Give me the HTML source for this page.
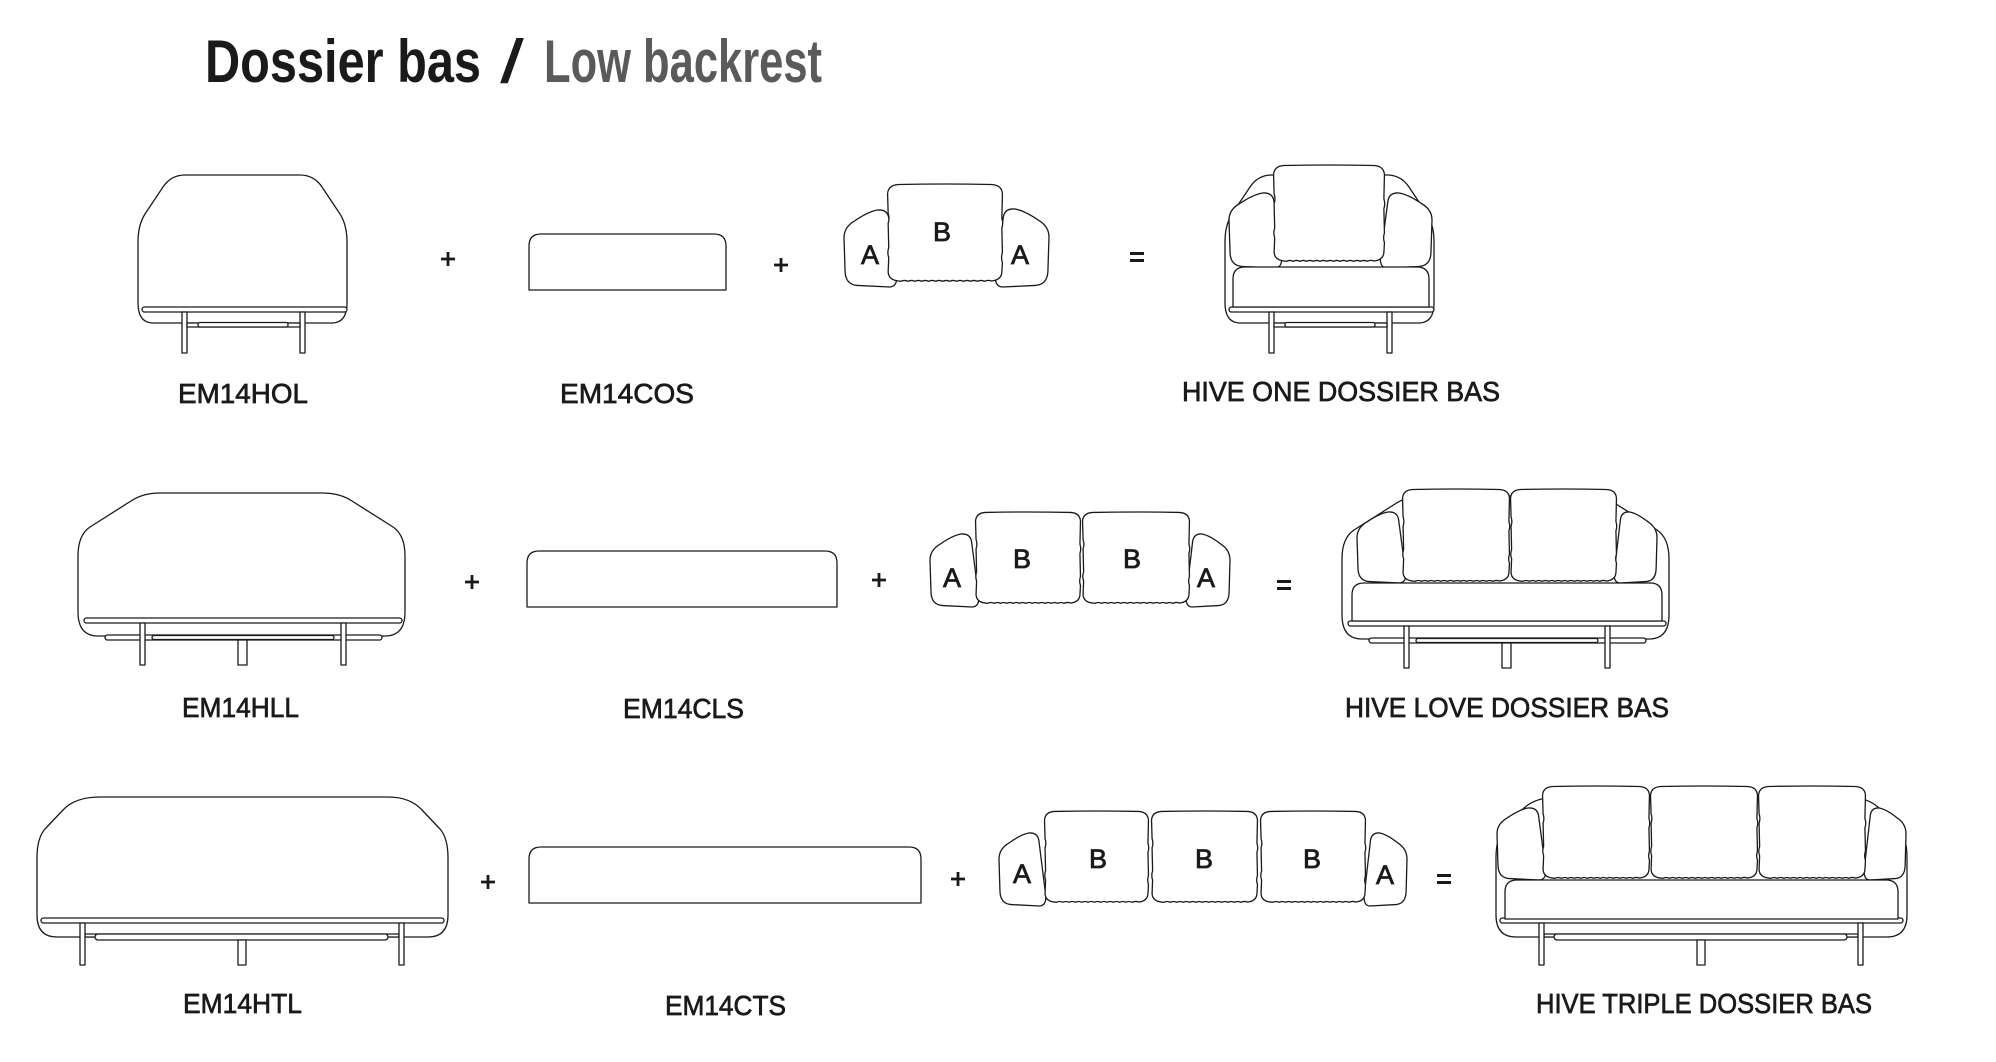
<!DOCTYPE html>
<html>
<head>
<meta charset="utf-8">
<style>
  html, body { margin:0; padding:0; background:#ffffff; }
  body { width:1996px; height:1062px; overflow:hidden; }
  svg { display:block; }
  .ln { fill:#ffffff; stroke:#1a1a1a; stroke-width:1.3; stroke-linejoin:round; }
  .lbl { font-family:"Liberation Sans", Arial, sans-serif; font-size:28px; fill:#1a1a1a; stroke:#1a1a1a; stroke-width:0.7; }
  .let { font-family:"Liberation Sans", Arial, sans-serif; font-size:27px; fill:#1a1a1a; stroke:#1a1a1a; stroke-width:0.8; text-anchor:middle; }
  .op { stroke:#1a1a1a; stroke-width:2.8; fill:none; }
</style>
</head>
<body>
<svg width="1996" height="1062" viewBox="0 0 1996 1062" xmlns="http://www.w3.org/2000/svg">
  <defs>
    <path id="Bc" vector-effect="non-scaling-stroke" d="M 10 0.5 Q 50 -0.5 90 0.5 Q 99 1 99.5 10 L 99 35 Q 100.5 40 99 45 L 99.5 70 Q 98 75 99.5 80 L 99 90 Q 98.5 98 90 99 Q 87 97.5 84 99.3 Q 81 97.5 78 99.3 Q 75 97.5 72 99.3 Q 69 97.5 66 99.3 Q 63 97.5 60 99.3 Q 57 97.5 54 99.3 Q 51 97.5 48 99.3 Q 45 97.5 42 99.3 Q 39 97.5 36 99.3 Q 33 97.5 30 99.3 Q 27 97.5 24 99.3 Q 21 97.5 18 99.3 Q 15 97.5 12 99.3 L 10 99 Q 1.5 98 1 90 L 1.5 75 Q 0 70 1.5 65 L 1 40 Q 2.5 35 1 30 L 0.5 10 Q 1 1 10 0.5 Z"/>
    <path id="AL" vector-effect="non-scaling-stroke" d="M 20 14 Q 45 2 62 0 Q 80 -1 83 10 L 97 84 Q 100 99 85 100 L 25 98 Q 3 97 2 80 L 0 36 Q 0 22 20 14 Z"/>
    <path id="AR" vector-effect="non-scaling-stroke" d="M 80 14 Q 55 2 38 0 Q 20 -1 17 10 L 3 84 Q 0 99 15 100 L 75 98 Q 97 97 98 80 L 100 36 Q 100 22 80 14 Z"/>

    <g id="hol">
      <path class="ln" d="M 185 175 L 300 175 Q 314 175 322 187 L 340 214 Q 347 225 347 242 L 347 303 Q 347 322 333 323 L 152 323 Q 138 322 138 303 L 138 242 Q 138 225 145 214 L 163 187 Q 171 175 185 175 Z"/>
      <rect class="ln" x="142" y="307" width="205" height="5" rx="2.5"/>
      <rect class="ln" x="182" y="312" width="5" height="41"/>
      <rect class="ln" x="300" y="312" width="5" height="41"/>
      <rect class="ln" x="187" y="323" width="113" height="4"/>
      <rect class="ln" x="198" y="322.5" width="90" height="4.5" rx="2"/>
    </g>

    <g id="hll">
      <path class="ln" d="M 160 493 L 322 493 Q 340 493 352 501 L 393 527 Q 405 535 405 556 L 405 612 Q 405 636 385 636 L 98 636 Q 78 636 78 612 L 78 556 Q 78 535 90 527 L 131 501 Q 143 493 160 493 Z"/>
      <rect class="ln" x="84" y="618" width="318" height="5" rx="2.5"/>
      <rect class="ln" x="105" y="635" width="277" height="5" rx="2.5"/>
      <rect class="ln" x="152" y="635.5" width="182" height="4" rx="2"/>
      <rect class="ln" x="140" y="623" width="5" height="42"/>
      <rect class="ln" x="341" y="623" width="5" height="42"/>
      <rect class="ln" x="238" y="640" width="9" height="25"/>
    </g>

    <g id="htl">
      <path class="ln" d="M 100 797 L 388 797 Q 410 797 422 810 L 440 829 Q 448 838 448 858 L 448 915 Q 448 937 428 937 L 57 937 Q 37 937 37 915 L 37 858 Q 37 838 45 829 L 63 810 Q 75 797 100 797 Z"/>
      <rect class="ln" x="41" y="918" width="403" height="5" rx="2.5"/>
      <rect class="ln" x="85" y="934" width="314" height="3"/>
      <rect class="ln" x="95" y="934" width="293" height="6" rx="3"/>
      <rect class="ln" x="80" y="923" width="5" height="42"/>
      <rect class="ln" x="399" y="923" width="5" height="42"/>
      <rect class="ln" x="238" y="940" width="8" height="25"/>
    </g>
  </defs>

  <!-- Title -->
  <text x="205" y="82" font-family="Liberation Sans, Arial, sans-serif" font-size="60" font-weight="bold" fill="#1a1a1a" textLength="276" lengthAdjust="spacingAndGlyphs">Dossier bas</text>
  <text x="501" y="82" font-family="Liberation Sans, Arial, sans-serif" font-size="60" fill="#1a1a1a" stroke="#1a1a1a" stroke-width="1" textLength="22" lengthAdjust="spacingAndGlyphs">/</text>
  <text x="544" y="82" font-family="Liberation Sans, Arial, sans-serif" font-size="60" font-weight="bold" fill="#5a5a5a" textLength="278" lengthAdjust="spacingAndGlyphs">Low backrest</text>

  <!-- ROW 1 -->
  <use href="#hol"/>
  <path class="op" d="M 441 259 H 455 M 448 252 V 266"/>
  <path class="ln" d="M 529 290 L 529 246 Q 529 234 541 234 L 714 234 Q 726 234 726 246 L 726 290 Z"/>
  <path class="op" d="M 774 265 H 788 M 781 258 V 272"/>
  <use href="#AL" class="ln" transform="translate(844,210) scale(0.54,0.77)"/>
  <use href="#AR" class="ln" transform="translate(994,209) scale(0.55,0.78)"/>
  <use href="#Bc" class="ln" transform="translate(887,184) scale(1.16,0.98)"/>
  <text class="let" x="870" y="264">A</text>
  <text class="let" x="942" y="241">B</text>
  <text class="let" x="1020" y="264">A</text>
  <rect x="1130" y="252" width="14" height="3" fill="#1a1a1a"/>
  <rect x="1130" y="259" width="14" height="3" fill="#1a1a1a"/>
  <g transform="translate(1087,0)"><use href="#hol"/></g>
  <use href="#AL" class="ln" transform="translate(1229,193) scale(0.54,0.75)"/>
  <use href="#AR" class="ln" transform="translate(1379,193) scale(0.53,0.75)"/>
  <use href="#Bc" class="ln" transform="translate(1273,165) scale(1.12,0.97)"/>
  <path class="ln" d="M 1233 307 L 1233 279 Q 1233 267 1245 267 L 1417 267 Q 1429 267 1429 279 L 1429 307 Z"/>

  <text class="lbl" x="178" y="403" textLength="130" lengthAdjust="spacingAndGlyphs">EM14HOL</text>
  <text class="lbl" x="560" y="403" textLength="134" lengthAdjust="spacingAndGlyphs">EM14COS</text>
  <text class="lbl" x="1182" y="401" textLength="318" lengthAdjust="spacingAndGlyphs">HIVE ONE DOSSIER BAS</text>

  <!-- ROW 2 -->
  <use href="#hll"/>
  <path class="op" d="M 465 582 H 479 M 472 575 V 589"/>
  <path class="ln" d="M 527 607 L 527 563 Q 527 551 539 551 L 825 551 Q 837 551 837 563 L 837 607 Z"/>
  <path class="op" d="M 872 580 H 886 M 879 573 V 587"/>
  <use href="#AL" class="ln" transform="translate(930,534) scale(0.50,0.73)"/>
  <use href="#AR" class="ln" transform="translate(1185,534) scale(0.45,0.73)"/>
  <use href="#Bc" class="ln" transform="translate(975,512) scale(1.06,0.92)"/>
  <use href="#Bc" class="ln" transform="translate(1082,512) scale(1.08,0.92)"/>
  <text class="let" x="952" y="587">A</text>
  <text class="let" x="1022" y="568">B</text>
  <text class="let" x="1132" y="568">B</text>
  <text class="let" x="1206" y="587">A</text>
  <rect x="1277" y="580" width="14" height="3" fill="#1a1a1a"/>
  <rect x="1277" y="587" width="14" height="3" fill="#1a1a1a"/>
  <g transform="translate(1264,3)"><use href="#hll"/></g>
  <use href="#AL" class="ln" transform="translate(1357,512) scale(0.50,0.71)"/>
  <use href="#AR" class="ln" transform="translate(1613,512) scale(0.44,0.71)"/>
  <use href="#Bc" class="ln" transform="translate(1402,489) scale(1.08,0.93)"/>
  <use href="#Bc" class="ln" transform="translate(1510,489) scale(1.07,0.93)"/>
  <path class="ln" d="M 1352 621 L 1352 595 Q 1352 583 1364 583 L 1650 583 Q 1662 583 1662 595 L 1662 621 Z"/>

  <text class="lbl" x="182" y="717" textLength="117" lengthAdjust="spacingAndGlyphs">EM14HLL</text>
  <text class="lbl" x="623" y="718" textLength="121" lengthAdjust="spacingAndGlyphs">EM14CLS</text>
  <text class="lbl" x="1345" y="717" textLength="324" lengthAdjust="spacingAndGlyphs">HIVE LOVE DOSSIER BAS</text>

  <!-- ROW 3 -->
  <use href="#htl"/>
  <path class="op" d="M 481 882 H 495 M 488 875 V 889"/>
  <path class="ln" d="M 529 903 L 529 859 Q 529 847 541 847 L 909 847 Q 921 847 921 859 L 921 903 Z"/>
  <path class="op" d="M 951 879 H 965 M 958 872 V 886"/>
  <use href="#AL" class="ln" transform="translate(999,833) scale(0.48,0.73)"/>
  <use href="#AR" class="ln" transform="translate(1363,833) scale(0.44,0.73)"/>
  <use href="#Bc" class="ln" transform="translate(1044,811) scale(1.05,0.92)"/>
  <use href="#Bc" class="ln" transform="translate(1151,811) scale(1.07,0.92)"/>
  <use href="#Bc" class="ln" transform="translate(1260,811) scale(1.06,0.92)"/>
  <text class="let" x="1022" y="883">A</text>
  <text class="let" x="1098" y="868">B</text>
  <text class="let" x="1204" y="868">B</text>
  <text class="let" x="1312" y="868">B</text>
  <text class="let" x="1385" y="884">A</text>
  <rect x="1437" y="874" width="14" height="3" fill="#1a1a1a"/>
  <rect x="1437" y="881" width="14" height="3" fill="#1a1a1a"/>
  <g transform="translate(1459,0)"><use href="#htl"/></g>
  <use href="#AL" class="ln" transform="translate(1497,808) scale(0.50,0.72)"/>
  <use href="#AR" class="ln" transform="translate(1863,808) scale(0.43,0.72)"/>
  <use href="#Bc" class="ln" transform="translate(1542,786) scale(1.08,0.93)"/>
  <use href="#Bc" class="ln" transform="translate(1650,786) scale(1.08,0.93)"/>
  <use href="#Bc" class="ln" transform="translate(1758,786) scale(1.08,0.93)"/>
  <path class="ln" d="M 1505 919 L 1505 892 Q 1505 880 1517 880 L 1886 880 Q 1898 880 1898 892 L 1898 919 Z"/>

  <text class="lbl" x="183" y="1013" textLength="119" lengthAdjust="spacingAndGlyphs">EM14HTL</text>
  <text class="lbl" x="665" y="1015" textLength="121" lengthAdjust="spacingAndGlyphs">EM14CTS</text>
  <text class="lbl" x="1536" y="1013" textLength="336" lengthAdjust="spacingAndGlyphs">HIVE TRIPLE DOSSIER BAS</text>
</svg>
</body>
</html>
